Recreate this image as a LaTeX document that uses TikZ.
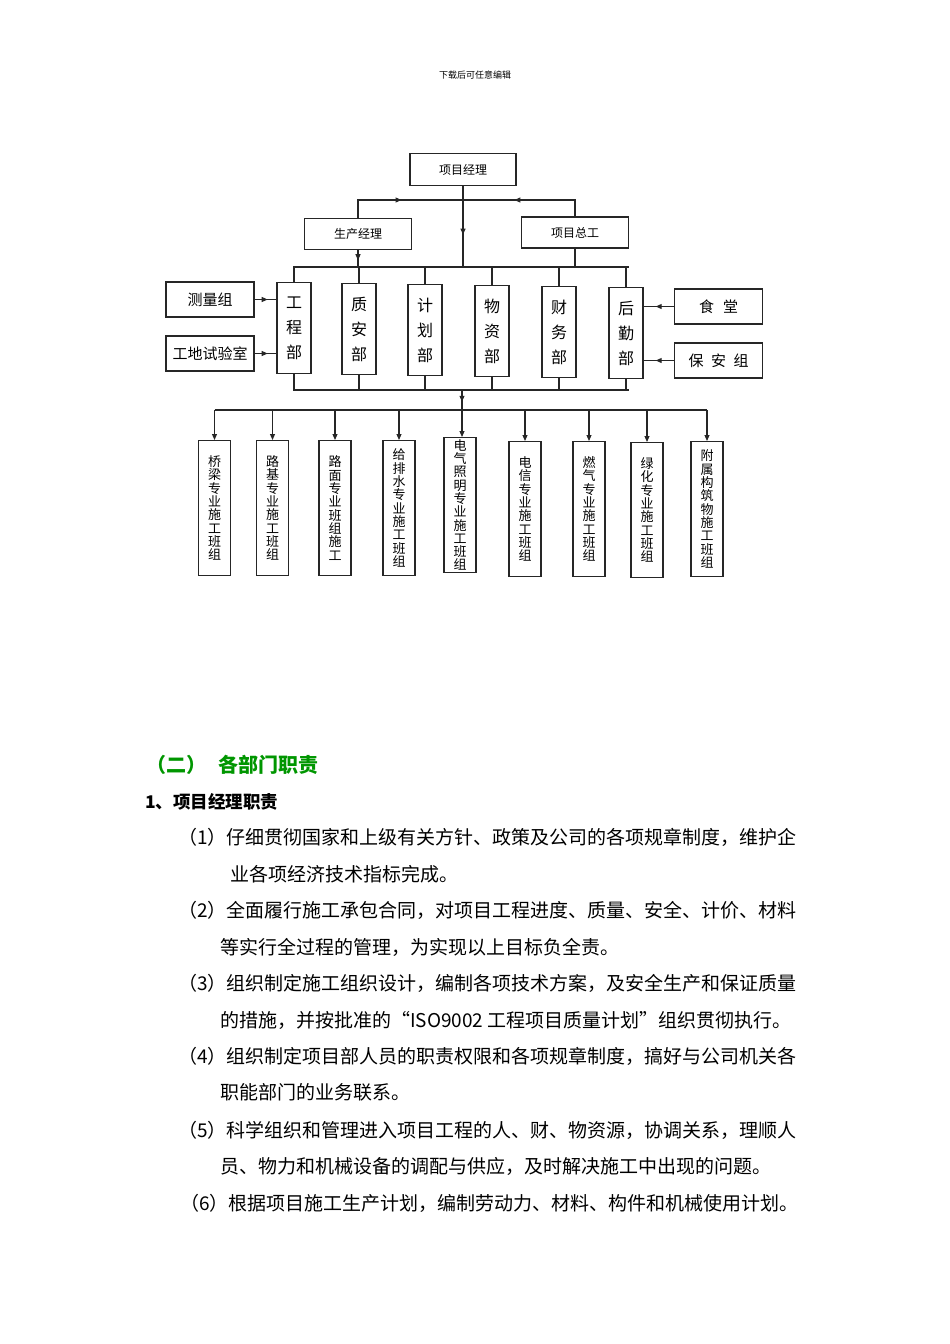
\documentclass[tikz,border=0pt]{standalone}
\usepackage{fontspec}
\setmainfont{Noto Sans CJK SC}
\usetikzlibrary{arrows.meta,decorations.markings,calc}
\definecolor{secgreen}{RGB}{0,150,0}
\tikzset{
  >={Triangle[length=6pt,width=5pt]},
  box/.style={draw=black!85, line width=1.1pt, inner sep=0pt, align=center},
  ln/.style={draw=black!85, line width=1.1pt},
  marr/.style={postaction=decorate, decoration={markings, mark=at position #1 with {\arrow{>}}}},
  topt/.style={font=\fontsize{12}{12}\selectfont},
  dept/.style={box, minimum width=34pt, minimum height=91pt, font=\fontsize{16}{25}\selectfont},
  side/.style={box, minimum width=88pt, minimum height=35pt, font=\fontsize{15}{15}\selectfont},
  team/.style={box, minimum width=32pt, minimum height=135pt, font=\fontsize{13}{13.3}\selectfont, anchor=north},
  para/.style={anchor=base west, inner sep=0pt, font=\fontsize{19}{19}\selectfont}
}
\begin{document}
\begin{tikzpicture}[x=1pt,y=-1pt]
\useasboundingbox (0,0) rectangle (950,1344);
\node[font=\fontsize{9}{9}\selectfont] (hdr) at (475,75) {下载后可任意编辑};
% top level
\node[box, topt, minimum width=106pt, minimum height=32pt] (pm) at (463,169.5) {项目经理};
\node[box, topt, minimum width=107pt, minimum height=31pt] (sm) at (358,234) {生产经理};
\node[box, topt, minimum width=107pt, minimum height=31pt] (zg) at (575,232.5) {项目总工};
\coordinate (t1) at (463,200);
\coordinate (b1L) at (293,267);
\coordinate (b1R) at (629,267);
\draw[ln, marr=0.5] (sm.north) -- (sm.north |- t1) -- (t1);
\draw[ln, marr=0.6] (zg.north) -- (zg.north |- t1) -- (t1);
\draw[ln, marr=0.6] (pm.south) -- (pm.south |- b1L);
\draw[ln, marr=0.6] (sm.south) -- (sm.south |- b1L);
\draw[ln] (zg.south) -- (zg.south |- b1L);
\draw[ln] (b1L) -- (b1R);
% departments
\node[dept] (d1) at (294,328) {工\\程\\部};
\node[dept] (d2) at (359,329) {质\\安\\部};
\node[dept] (d3) at (425,330) {计\\划\\部};
\node[dept] (d4) at (492,331) {物\\资\\部};
\node[dept] (d5) at (559,332) {财\\务\\部};
\node[dept] (d6) at (626,333) {后\\勤\\部};
\foreach \d in {d1,d2,d3,d4,d5,d6}{
  \draw[ln] (\d.north) -- (\d.north |- b1L);
}
% side boxes
\node[side] (s1) at (210,299.5) {测量组};
\node[side] (s2) at (210,353.5) {工地试验室};
\node[side] (s3) at (718.5,306.5) {食\hspace{0.6em}堂};
\node[side] (s4) at (718.5,360.5) {保\hspace{0.5em}安\hspace{0.5em}组};
\draw[ln, marr=0.6] (s1.east) -- (s1.east -| d1.west);
\draw[ln, marr=0.6] (s2.east) -- (s2.east -| d1.west);
\draw[ln, marr=0.6] (s3.west) -- (s3.west -| d6.east);
\draw[ln, marr=0.6] (s4.west) -- (s4.west -| d6.east);
% lower bus
\coordinate (b2L) at (293,390);
\coordinate (b2R) at (629,390);
\coordinate (c2) at (462,390);
\draw[ln] (b2L) -- (b2R);
\foreach \d in {d1,d2,d3,d4,d5,d6}{
  \draw[ln] (\d.south) -- (\d.south |- b2L);
}
% teams
\node[team] (g1) at (214.5,440) {桥\\梁\\专\\业\\施\\工\\班\\组};
\node[team] (g2) at (272.5,440) {路\\基\\专\\业\\施\\工\\班\\组};
\node[team] (g3) at (335,440) {路\\面\\专\\业\\班\\组\\施\\工};
\node[team] (g4) at (399,440) {给\\排\\水\\专\\业\\施\\工\\班\\组};
\node[team] (g5) at (460,437) {电\\气\\照\\明\\专\\业\\施\\工\\班\\组};
\node[team] (g6) at (525,441) {电\\信\\专\\业\\施\\工\\班\\组};
\node[team] (g7) at (589,441) {燃\\气\\专\\业\\施\\工\\班\\组};
\node[team] (g8) at (647,442) {绿\\化\\专\\业\\施\\工\\班\\组};
\node[team] (g9) at (707,441) {附\\属\\构\\筑\\物\\施\\工\\班\\组};
\coordinate (b3L) at (214.5,410);
\coordinate (b3R) at (707,410);
\draw[ln] (b3L) -- (b3R);
\draw[ln, marr=0.25, ->] (c2) -- (c2 |- g5.north);
\foreach \g in {g1,g2,g3,g4,g6,g7,g8,g9}{
  \draw[ln, ->] (\g.north |- b3L) -- (\g.north);
}
% text section
\node[anchor=base west, inner sep=0pt, text=secgreen, font=\fontsize{20}{20}\selectfont\bfseries] (sec) at (146,772) {（二）\hspace{0.6em}各部门职责};
\node[anchor=base west, inner sep=0pt, font=\fontsize{17.5}{17.5}\selectfont\bfseries] (sub) at (145,808) {1、项目经理职责};
\node[para] (p1a) at (178,844) {（1）仔细贯彻国家和上级有关方针、政策及公司的各项规章制度，维护企};
\node[para] (p1b) at (230,881) {业各项经济技术指标完成。};
\node[para] (p2a) at (178,917) {（2）全面履行施工承包合同，对项目工程进度、质量、安全、计价、材料};
\node[para] (p2b) at (220,954) {等实行全过程的管理，为实现以上目标负全责。};
\node[para] (p3a) at (178,990) {（3）组织制定施工组织设计，编制各项技术方案，及安全生产和保证质量};
\node[para] (p3b) at (220,1027) {的措施，并按批准的“ISO9002 工程项目质量计划”组织贯彻执行。};
\node[para] (p4a) at (178,1063) {（4）组织制定项目部人员的职责权限和各项规章制度，搞好与公司机关各};
\node[para] (p4b) at (220,1099) {职能部门的业务联系。};
\node[para] (p5a) at (178,1137) {（5）科学组织和管理进入项目工程的人、财、物资源，协调关系，理顺人};
\node[para] (p5b) at (220,1173) {员、物力和机械设备的调配与供应，及时解决施工中出现的问题。};
\node[para] (p6a) at (180,1210) {（6）根据项目施工生产计划，编制劳动力、材料、构件和机械使用计划。};
\end{tikzpicture}
\end{document}
